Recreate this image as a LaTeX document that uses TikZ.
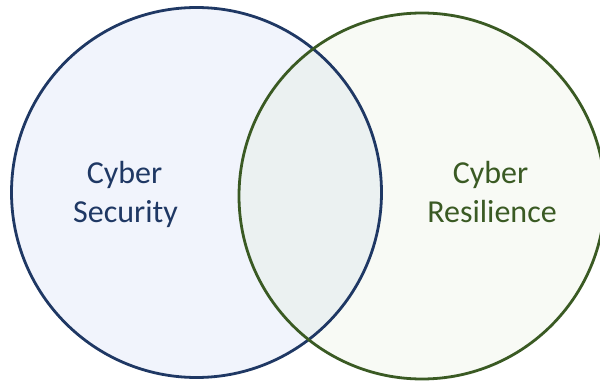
\documentclass[tikz,border=0pt]{standalone}
\usepackage{fontspec}
\setmainfont{Carlito}
\definecolor{secline}{HTML}{1F3864}
\definecolor{secfill}{HTML}{F1F4FC}
\definecolor{resline}{HTML}{3A5A23}
\definecolor{resfill}{HTML}{F8FAF5}
\definecolor{bothfill}{HTML}{EBF1F1}
\begin{document}
\begin{tikzpicture}[x=1pt,y=1pt,
  lbl/.style={anchor=base,inner sep=0pt,font=\fontsize{32}{39}\selectfont}]
\useasboundingbox (0,0) rectangle (600,381);
\fill[secfill] (196.5,188.5) circle (185);
\fill[resfill] (422,185) circle (183);
\begin{scope}
  \clip (196.5,188.5) circle (185);
  \fill[bothfill] (422,185) circle (183);
\end{scope}
\draw[secline,line width=2.8] (196.5,188.5) circle (185);
\draw[resline,line width=2.8] (422,185) circle (183);
\node[lbl,text=secline] (cs1) at (124.5,198) {Cyber};
\node[lbl,text=secline] (cs2) at (125.5,159) {Security};
\node[lbl,text=resline] (cr1) at (490.5,198) {Cyber};
\node[lbl,text=resline] (cr2) at (492,159) {Resilience};
\end{tikzpicture}
\end{document}
